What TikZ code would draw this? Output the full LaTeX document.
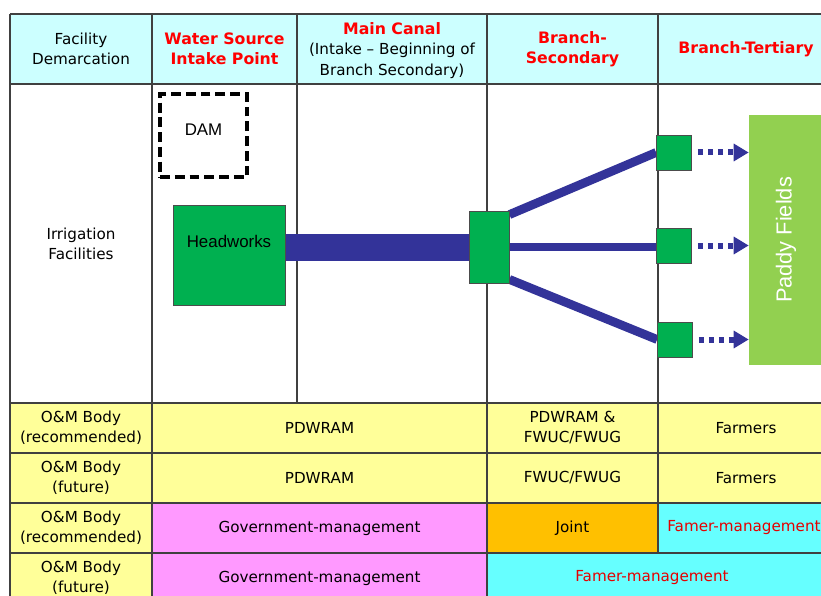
\documentclass[tikz,border=0pt]{standalone}
\usepackage{fontspec}
\setmainfont{DejaVu Sans}
\newfontfamily\arialfont{Liberation Sans}
\usetikzlibrary{arrows.meta}
\definecolor{hdcyan}{HTML}{CCFFFF}
\definecolor{omyellow}{HTML}{FFFF99}
\definecolor{govpink}{HTML}{FF99FF}
\definecolor{jointorange}{HTML}{FFC000}
\definecolor{farmcyan}{HTML}{66FFFF}
\definecolor{boxgreen}{HTML}{00B050}
\definecolor{paddygreen}{HTML}{92D050}
\definecolor{canalblue}{HTML}{333399}
\definecolor{hdred}{HTML}{FF0000}
\pgfdeclarelayer{background}
\pgfsetlayers{background,main}

\begin{document}
\begin{tikzpicture}[
  tline/.style={draw=black!75, line width=0.9pt},
  hdtxt/.style={align=center, font=\fontsize{10.8}{14.4}\selectfont},
  hdred/.style={align=center, text=hdred, font=\fontsize{11.2}{14.4}\selectfont\bfseries},
  cell/.style={align=center, font=\fontsize{10.8}{14.2}\selectfont},
  redcell/.style={cell, text=hdred!90!black},
  gbox/.style={draw=black!70, fill=boxgreen, line width=0.6pt, inner sep=0pt},
  damfr/.style={draw=black, line width=2.4pt, dash pattern=on 7pt off 3.5pt, inner sep=0pt},
  boxlbl/.style={anchor=center, yshift=-0.93cm, font=\arialfont\fontsize{12}{14}\selectfont},
  canal/.style={draw=canalblue, line width=0.675cm},
  sub/.style={draw=canalblue, line width=0.22cm},
  feed/.style={draw=canalblue, line width=0.15cm, dash pattern=on 0.125cm off 0.125cm,
               -{Triangle[length=0.375cm, width=0.42cm]}, shorten <=0.15cm},
]
\useasboundingbox (0,0) rectangle (20.525,-14.9);

\begin{pgfonlayer}{background}
\fill[hdcyan]      (0.25,-0.35)    rectangle (20.525,-2.1);
\fill[omyellow]    (0.25,-10.075)  rectangle (20.525,-12.575);
\fill[omyellow]    (0.25,-12.575)  rectangle (3.8,-15.075);
\fill[govpink]     (3.8,-12.575)   rectangle (12.175,-15.075);
\fill[jointorange] (12.175,-12.575) rectangle (16.45,-13.825);
\fill[farmcyan]    (16.45,-12.575) rectangle (20.525,-13.825);
\fill[farmcyan]    (12.175,-13.825) rectangle (20.525,-15.075);
\draw[tline] (0.25,-0.35)   -- (20.525,-0.35);
\draw[tline] (0.25,-2.1)    -- (20.525,-2.1);
\draw[tline] (0.25,-10.075) -- (20.525,-10.075);
\draw[tline] (0.25,-11.325) -- (20.525,-11.325);
\draw[tline] (0.25,-12.575) -- (20.525,-12.575);
\draw[tline] (0.25,-13.825) -- (20.525,-13.825);
\draw[tline] (0.25,-0.35)   -- (0.25,-15.075);
\draw[tline] (3.8,-0.35)    -- (3.8,-15.075);
\draw[tline] (7.425,-0.35)  -- (7.425,-10.075);
\draw[tline] (12.175,-0.35) -- (12.175,-15.075);
\draw[tline] (16.45,-0.35)  -- (16.45,-13.825);
\end{pgfonlayer}

\node[hdtxt] (hfac)  at (2.025,-1.225)   {Facility\\Demarcation};
\node[hdred] (hsrc)  at (5.6125,-1.225)  {Water Source\\Intake Point};
\node[hdtxt] (hmain) at (9.8,-1.26)
  {\textcolor{hdred}{\fontsize{11.2}{14.4}\selectfont\bfseries Main Canal}\\(Intake -- Beginning of\\Branch Secondary)};
\node[hdred] (hsec)  at (14.3125,-1.225) {Branch-\\Secondary};
\node[hdred] (hter)  at (18.65,-1.225)   {Branch-Tertiary};
\node[hdtxt] (hirr)  at (2.025,-6.1)     {Irrigation\\Facilities};

\node[cell] (l1) at (2.025,-10.7)  {O\&M Body\\(recommended)};
\node[cell] (l2) at (2.025,-11.95) {O\&M Body\\(future)};
\node[cell] (l3) at (2.025,-13.2)  {O\&M Body\\(recommended)};
\node[cell] (l4) at (2.025,-14.45) {O\&M Body\\(future)};
\node[cell] (c1a) at (7.9875,-10.7)  {PDWRAM};
\node[cell] (c1b) at (14.3125,-10.7) {PDWRAM \&\\FWUC/FWUG};
\node[cell] (c1c) at (18.65,-10.7)   {Farmers};
\node[cell] (c2a) at (7.9875,-11.95)  {PDWRAM};
\node[cell] (c2b) at (14.3125,-11.95) {FWUC/FWUG};
\node[cell] (c2c) at (18.65,-11.95)   {Farmers};
\node[cell] (c3a) at (7.9875,-13.2)  {Government-management};
\node[cell] (c3b) at (14.3125,-13.2) {Joint};
\node[redcell] (c3c) at (18.6,-13.2) {Famer-management};
\node[cell] (c4a) at (7.9875,-14.45) {Government-management};
\node[redcell] (c4b) at (16.3,-14.45) {Famer-management};

\node[damfr, minimum width=2.175cm, minimum height=2.075cm,
      label={[boxlbl]north:DAM}] (dam) at (5.0875,-3.3875) {};
\node[gbox, minimum width=2.8cm, minimum height=2.5cm,
      label={[boxlbl]north:Headworks}] (headworks) at (5.725,-6.375) {};
\node[gbox, minimum width=1.0cm, minimum height=1.8cm] (branch) at (12.225,-6.175) {};
\node[gbox, minimum size=0.875cm] (tert1) at (16.85,-3.8125) {};
\node[gbox, minimum size=0.875cm] (tert2) at (16.85,-6.1375) {};
\node[gbox, minimum size=0.875cm] (tert3) at (16.875,-8.4875) {};
\node[fill=paddygreen, inner sep=0pt, minimum width=2.05cm, minimum height=6.25cm]
  (paddy) at (19.75,-6.0) {};
\node[rotate=90, text=white, font=\arialfont\fontsize{15.5}{18}\selectfont]
  (paddytxt) at (19.65,-6.0) {Paddy Fields};

\begin{pgfonlayer}{background}
\draw[canal] (headworks.east |- branch.west) -- (branch.west);
\draw[sub] ([yshift=-0.1cm]branch.north east) -- (tert1.west);
\draw[sub] (branch.east) -- (branch.east -| tert2.west);
\draw[sub] ([yshift=0.1cm]branch.south east) -- (tert3.west);
\end{pgfonlayer}
\draw[feed] (tert1.east) -- (tert1.east -| paddy.west);
\draw[feed] (tert2.east) -- (tert2.east -| paddy.west);
\draw[feed] (tert3.east) -- (tert3.east -| paddy.west);
\end{tikzpicture}
\end{document}
